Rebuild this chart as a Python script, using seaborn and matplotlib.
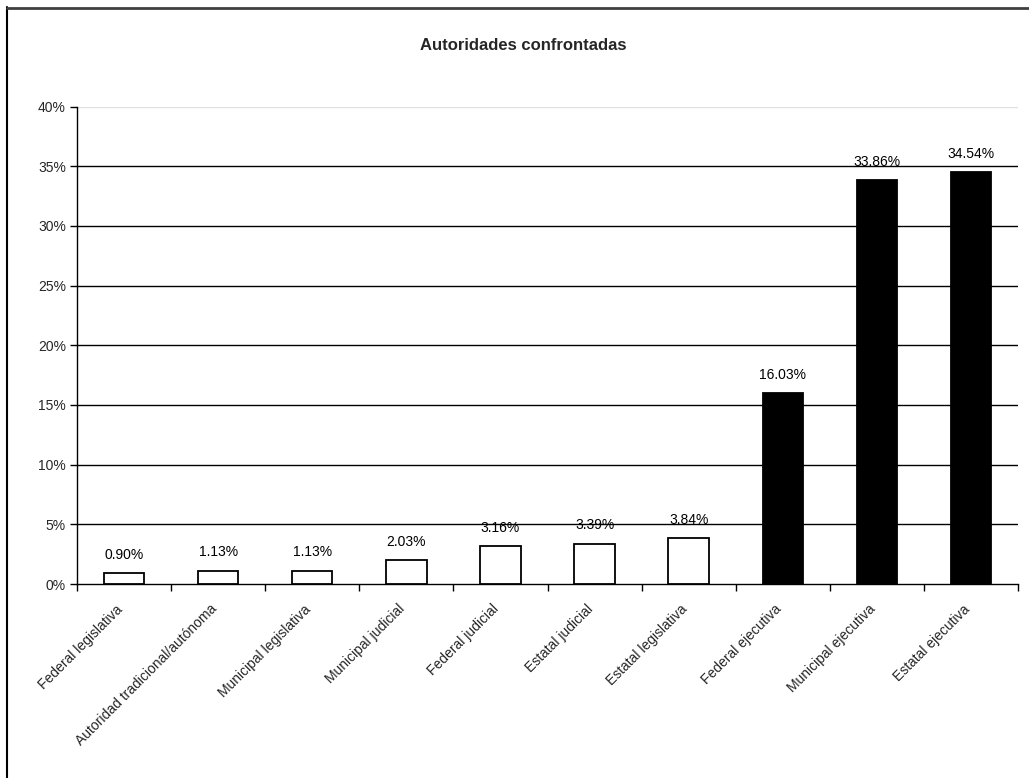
import matplotlib
matplotlib.use("Agg")
import matplotlib.pyplot as plt
from matplotlib.lines import Line2D
from matplotlib.ticker import FuncFormatter, FixedLocator
import seaborn as sns
import pandas as pd

categories = [
    "Federal legislativa",
    "Autoridad tradicional/autónoma",
    "Municipal legislativa",
    "Municipal judicial",
    "Federal judicial",
    "Estatal judicial",
    "Estatal legislativa",
    "Federal ejecutiva",
    "Municipal ejecutiva",
    "Estatal ejecutiva",
]
values = [0.90, 1.13, 1.13, 2.03, 3.16, 3.39, 3.84, 16.03, 33.86, 34.54]
bar_colors = ["white"] * 7 + ["black"] * 3
title = "Autoridades confrontadas"

sns.set_theme(style="white")
plt.rcParams["font.family"] = ["Liberation Sans", "DejaVu Sans"]

W, H = 1029, 778
fig = plt.figure(figsize=(W / 100, H / 100), dpi=100)
ax = fig.add_axes([77 / W, 1 - 584 / H, (1018 - 77) / W, (584 - 106.5) / H])

df = pd.DataFrame({"cat": categories, "val": values})
sns.barplot(data=df, x="cat", y="val", hue="cat", palette=bar_colors,
            legend=False, width=0.43, edgecolor="black", linewidth=1.3,
            saturation=1, ax=ax, zorder=3)

ax.set_ylim(0, 40)
ax.set_xlim(-0.5, len(categories) - 0.5)
ax.set_yticks(range(0, 41, 5))
ax.yaxis.set_major_formatter(FuncFormatter(lambda v, p: f"{int(v)}%"))
for yv in range(5, 40, 5):
    ax.axhline(yv, color="black", linewidth=1.0, zorder=1)
ax.axhline(40, color="#e0e0e0", linewidth=1.0, zorder=1)

# category labels (ending just left of each bar centre), tick marks at boundaries
label_offset = 0.09
ax.set_xticks([i - label_offset for i in range(len(categories))])
ax.set_xticklabels(categories, rotation=45, ha="right", rotation_mode="anchor",
                   fontsize=10)
ax.tick_params(axis="x", which="major", length=0, pad=13)
ax.xaxis.set_minor_locator(FixedLocator([i + 0.5 for i in range(-1, len(categories))]))
ax.tick_params(axis="x", which="minor", length=5, width=1, color="black",
               direction="out", bottom=True)
ax.tick_params(axis="y", length=5, width=1, color="black", direction="out",
               left=True, labelsize=10, pad=3)
ax.set_xlabel("")
ax.set_ylabel("")

for s in ["top", "right"]:
    ax.spines[s].set_visible(False)
for s in ["left", "bottom"]:
    ax.spines[s].set_color("black")
    ax.spines[s].set_linewidth(1.0)

for i, v in enumerate(values):
    ax.annotate(f"{v:.2f}%", (i, v), xytext=(0, 8), textcoords="offset points",
                ha="center", va="bottom", fontsize=10, color="black")

fig.text(523 / W, 1 - 45 / H, title, ha="center", va="center",
         fontsize=12, fontweight="bold")

# frame lines around the chart
fig.add_artist(Line2D([6.5 / W, 6.5 / W], [0, 1 - 7 / H], color="black",
                      linewidth=1.5, transform=fig.transFigure))
fig.add_artist(Line2D([6.5 / W, 1], [1 - 7.5 / H, 1 - 7.5 / H], color="#404040",
                      linewidth=2.0, transform=fig.transFigure))

fig.savefig("out.png", dpi=100, facecolor="white")
